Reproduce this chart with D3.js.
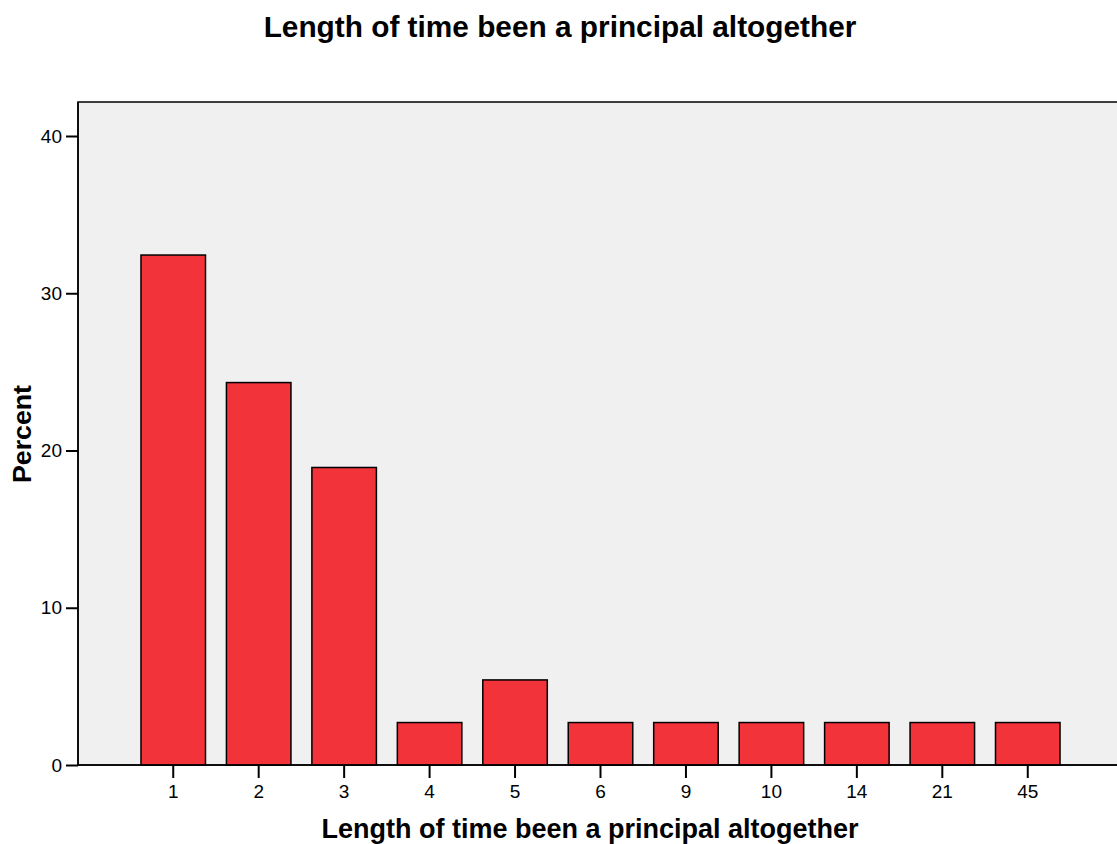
<!DOCTYPE html>
<html>
<head>
<meta charset="utf-8">
<script src="https://cdn.jsdelivr.net/npm/d3@7"></script>
<style>
  html, body { margin: 0; padding: 0; background: #ffffff; overflow: hidden; }
  svg { display: block; font-family: "Liberation Sans", Arial, sans-serif; }
</style>
</head>
<body>
<svg id="chart" width="1117" height="844"></svg>
<script>
const categories = ["1", "2", "3", "4", "5", "6", "9", "10", "14", "21", "45"];
const percents = [32.43, 24.32, 18.92, 2.70, 5.41, 2.70, 2.70, 2.70, 2.70, 2.70, 2.70];
const yTicks = [0, 10, 20, 30, 40];

const titleText = "Length of time been a principal altogether";
const xTitleText = "Length of time been a principal altogether";
const yTitleText = "Percent";

const W = 1117, H = 844;
const plot = { left: 78, top: 102, right: 1123, bottom: 765 };

const svg = d3.select("#chart");

const x = d3.scaleBand()
  .domain(categories)
  .range([plot.left, plot.right])
  .paddingInner(0.245)
  .paddingOuter(0.737);

const y = d3.scaleLinear()
  .domain([0, 40])
  .range([plot.bottom, 136]);

// plot background
svg.append("rect")
  .attr("x", plot.left)
  .attr("y", plot.top)
  .attr("width", plot.right - plot.left)
  .attr("height", plot.bottom - plot.top)
  .attr("fill", "#f0f0f0")
  .attr("stroke", "#000")
  .attr("stroke-width", 1.5);

// bars
svg.append("g").selectAll("rect")
  .data(categories.map((c, i) => ({ c, v: percents[i] })))
  .join("rect")
  .attr("x", d => x(d.c))
  .attr("width", x.bandwidth())
  .attr("y", d => y(d.v))
  .attr("height", d => y(0) - y(d.v))
  .attr("fill", "#f2333a")
  .attr("stroke", "#000")
  .attr("stroke-width", 1.5);

// y axis
const yAxis = d3.axisLeft(y).tickValues(yTicks).tickSize(12).tickPadding(4).tickSizeOuter(0);
const gy = svg.append("g").attr("transform", `translate(${plot.left},0)`).call(yAxis);
gy.select(".domain").remove();
gy.selectAll(".tick line").attr("stroke", "#000").attr("stroke-width", 2);
gy.selectAll(".tick text").attr("font-size", 19).attr("fill", "#000")
  .attr("font-family", "Liberation Sans, Arial, sans-serif");

// x axis
const xAxis = d3.axisBottom(x).tickSize(13).tickPadding(7).tickSizeOuter(0);
const gx = svg.append("g").attr("transform", `translate(0,${plot.bottom})`).call(xAxis);
gx.select(".domain").remove();
gx.selectAll(".tick line").attr("stroke", "#000").attr("stroke-width", 2);
gx.selectAll(".tick text").attr("font-size", 19).attr("fill", "#000")
  .attr("font-family", "Liberation Sans, Arial, sans-serif");

// axis lines
svg.append("line").attr("x1", plot.left).attr("x2", plot.right)
  .attr("y1", plot.bottom).attr("y2", plot.bottom)
  .attr("stroke", "#000").attr("stroke-width", 1.5);
svg.append("line").attr("x1", plot.left).attr("x2", plot.left)
  .attr("y1", plot.top).attr("y2", plot.bottom)
  .attr("stroke", "#000").attr("stroke-width", 1.5);

// titles
svg.append("text")
  .attr("x", 560).attr("y", 37)
  .attr("text-anchor", "middle")
  .attr("font-size", 29.8).attr("font-weight", "bold")
  .text(titleText);

svg.append("text")
  .attr("x", 590).attr("y", 838)
  .attr("text-anchor", "middle")
  .attr("font-size", 27).attr("font-weight", "bold")
  .text(xTitleText);

svg.append("text")
  .attr("transform", "translate(31,434) rotate(-90)")
  .attr("text-anchor", "middle")
  .attr("font-size", 26.7).attr("font-weight", "bold")
  .text(yTitleText);
</script>
</body>
</html>
